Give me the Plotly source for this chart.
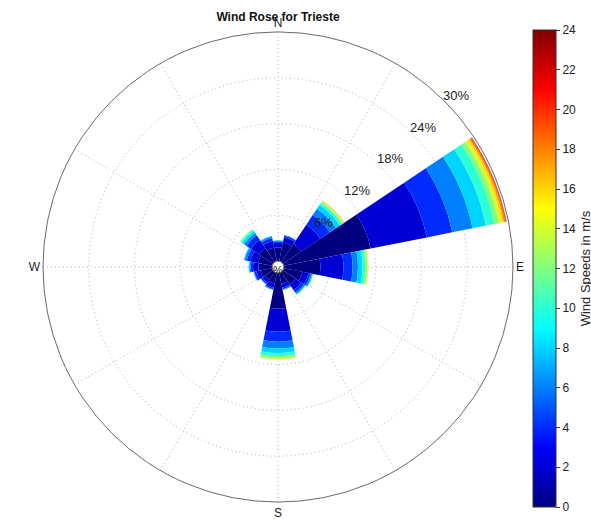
import math
import plotly.graph_objects as go

# Compass sectors (16 x 22.5 deg) and wind speed bins (m/s)
directions = ["N", "NNE", "NE", "ENE", "E", "ESE", "SE", "SSE",
              "S", "SSW", "SW", "WSW", "W", "WNW", "NW", "NNW"]
bearings = [i * 22.5 for i in range(16)]
speed_edges = [0, 2, 4, 6, 8, 10, 12, 14, 16, 18, 20, 22, 24]

# Cumulative frequency (%) per sector, one value per speed bin boundary
cum_N = [1.8, 2.4, 2.6, 2.7, 2.75]
cum_NNE = [2.5, 3.2, 3.4, 3.5]
cum_NE = [2.9, 5.9, 7.4, 8.4, 9.0, 9.3, 9.5, 9.6, 9.65, 9.7]
cum_ENE = [11.6, 19.1, 22.5, 25.2, 27.0, 28.1, 28.7, 29.1, 29.4, 29.6, 29.7, 29.75]
cum_E = [4.8, 7.8, 9.0, 9.7, 10.3, 10.65, 10.9, 11.0, 11.05]
cum_ESE = [2.5, 3.3, 3.6, 3.8, 3.9]
cum_SE = [2.0, 2.9, 3.3, 3.5, 3.6]
cum_SSE = [1.5, 2.0, 2.2, 2.3]
cum_S = [4.7, 7.7, 9.0, 9.9, 10.5, 10.9, 11.2, 11.3]
cum_SSW = [1.4, 2.0, 2.2, 2.3]
cum_SW = [1.3, 1.7, 1.9, 2.0]
cum_WSW = [1.6, 2.1, 2.4, 2.5]
cum_W = [1.8, 2.5, 2.8, 3.0, 3.1]
cum_WNW = [1.9, 2.9, 3.4, 3.7, 3.8]
cum_NW = [2.2, 3.5, 4.2, 4.6, 4.9, 5.1, 5.2]
cum_NNW = [1.8, 2.7, 3.1, 3.3, 3.4]

cumulative = [cum_N, cum_NNE, cum_NE, cum_ENE, cum_E, cum_ESE, cum_SE, cum_SSE,
              cum_S, cum_SSW, cum_SW, cum_WSW, cum_W, cum_WNW, cum_NW, cum_NNW]

radial_ticks = [6, 12, 18, 24, 30]
cbar_ticks = list(range(0, 25, 2))
r_max = 30
hole = 0.025

n_bins = len(speed_edges) - 1

# MATLAB-style jet colormap
jet = [[0.0, "rgb(0,0,128)"], [0.125, "rgb(0,0,255)"], [0.375, "rgb(0,255,255)"],
       [0.625, "rgb(255,255,0)"], [0.875, "rgb(255,0,0)"], [1.0, "rgb(128,0,0)"]]

FONT = "Liberation Sans, Arial, Helvetica"


def bin_freq(cum, k):
    """Frequency of speed bin k in one sector from its cumulative list."""
    full = cum + [cum[-1]] * (n_bins - len(cum))
    prev = full[k - 1] if k > 0 else 0.0
    return max(full[k] - prev, 0.0)


W, H = 591, 519
dom_x = [42 / W, 514 / W]
dom_y = [1 - 502 / H, 1 - 32 / H]

fig = go.Figure()
for k in range(n_bins):
    lower = speed_edges[k]
    fig.add_trace(go.Barpolar(
        r=[bin_freq(c, k) for c in cumulative],
        theta=bearings,
        width=[22.5] * 16,
        marker=dict(
            color=[lower] * 16, colorscale=jet, cmin=0, cmax=24,
            line=dict(width=0),
            showscale=(k == 0),
            colorbar=dict(
                x=533 / W, xanchor="left", xpad=0,
                y=12 / H, yanchor="bottom", ypad=0,
                len=477 / H, lenmode="fraction",
                thickness=23, thicknessmode="pixels",
                tickvals=cbar_ticks, ticks="outside", ticklen=4,
                tickcolor="#333",
                tickfont=dict(family=FONT, size=12, color="#222"),
                outlinecolor="#333", outlinewidth=1,
                title=dict(text="Wind Speeds in m/s", side="right",
                           font=dict(family=FONT, size=13, color="#222")),
            ),
        ),
        hoverinfo="skip",
        showlegend=False,
    ))

# Radial percentage labels along the NE diagonal, placed with the polar scale
cx = (dom_x[0] + dom_x[1]) / 2 * W
cy = (1 - (dom_y[0] + dom_y[1]) / 2) * H
R = min((dom_x[1] - dom_x[0]) * W, (dom_y[1] - dom_y[0]) * H) / 2
label_bearing = math.radians(46)
annotations = []
for v in radial_ticks:
    rp = R * (hole + (1 - hole) * (v + 1.6) / r_max)
    px = cx + rp * math.sin(label_bearing)
    py = cy - rp * math.cos(label_bearing)
    annotations.append(dict(
        text=f"{v}%", x=px / W, y=1 - py / H, xref="paper", yref="paper",
        showarrow=False, xanchor="center", yanchor="middle",
        font=dict(family=FONT, size=13, color="#222"),
    ))
annotations.append(dict(
    text="%", x=cx / W, y=1 - (cy + 3) / H, xref="paper", yref="paper",
    showarrow=False, font=dict(family=FONT, size=11, color="#111"),
))

angle_ticks = list(range(0, 360, 30))
compass_text = {0: "N", 90: "E", 180: "S", 270: "W"}

fig.update_layout(
    width=W, height=H,
    margin=dict(l=0, r=0, t=0, b=0, autoexpand=False),
    paper_bgcolor="white",
    title=dict(text="<b>Wind Rose for Trieste</b>", x=278 / W, xanchor="center",
               y=1 - 17 / H, yanchor="middle",
               font=dict(family=FONT, size=12, color="#111")),
    polar=dict(
        domain=dict(x=dom_x, y=dom_y),
        bgcolor="white",
        hole=hole,
        bargap=0,
        barmode="stack",
        angularaxis=dict(
            direction="clockwise", rotation=90,
            tickmode="array", tickvals=angle_ticks,
            ticktext=[compass_text.get(a, "") for a in angle_ticks],
            ticks="",
            tickfont=dict(family=FONT, size=12, color="#222"),
            showgrid=True, gridcolor="#b0b0b0", gridwidth=1, griddash="1px,3px",
            showline=True, linecolor="#6a6a6a", linewidth=1,
        ),
        radialaxis=dict(
            range=[0, r_max], tickmode="array", tickvals=radial_ticks,
            showticklabels=False, ticks="", showline=False,
            showgrid=True, gridcolor="#b0b0b0", gridwidth=1, griddash="1px,3px",
        ),
    ),
    annotations=annotations,
)

fig.write_html("out.html")
